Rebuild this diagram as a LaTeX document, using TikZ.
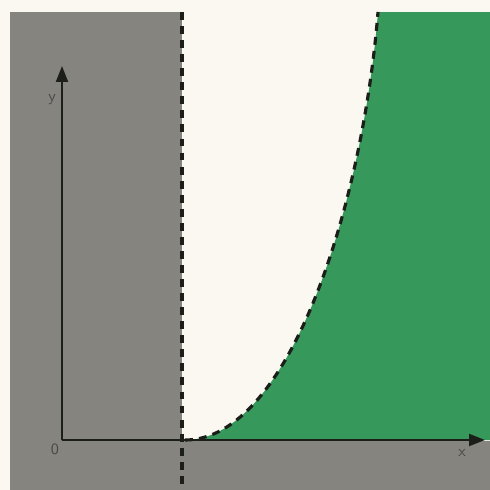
\documentclass[tikz,border=0pt]{standalone}
\definecolor{paper}{RGB}{250,248,240}
\definecolor{slate}{RGB}{134,132,126}
\definecolor{leaf}{RGB}{54,152,90}
\definecolor{ink}{RGB}{28,30,26}
\usepackage{tikz}
\usetikzlibrary{arrows.meta}
\tikzset{
  axis/.style={-{Triangle[length=3.2mm,width=2.4mm]}, ink, line width=1.3pt},
  bound/.style={ink, line width=1.8pt, dash pattern=on 4.5pt off 3.5pt},
  lbl/.style={font=\sffamily\small, text=ink!80},
}
\begin{document}
\begin{tikzpicture}[x=0.02cm,y=-0.02cm]
    \useasboundingbox (0,0) rectangle (490,490);
    \fill[paper] (0,0) rectangle (490,490);
    % shaded parts
    \fill[slate] (10,12) rectangle (182,490);
    \fill[slate] (182,441) rectangle (490,490);
    \fill[leaf] (185,440) .. controls (288,440) and (362,210) .. (378,12)
        -- (490,12) -- (490,440) -- cycle;
    % boundaries
    \coordinate (wallTop) at (182,12);
    \coordinate (wallBot) at (182,490);
    \coordinate (tip) at (185,440);
    \coordinate (rim) at (378,12);
    \draw[bound] (wallTop) -- (wallBot);
    \draw[bound] (tip) .. controls (288,440) and (362,210) .. (rim);
    % axes
    \coordinate (O) at (62,440);
    \coordinate (xend) at (485,440);
    \coordinate (yend) at (62,66);
    \draw[axis] (O) -- (xend);
    \draw[axis] (O) -- (yend);
    \node[lbl] (o) at (55,449) {0};
    \node[lbl] (ylab) at (52,100) {y};
    \node[lbl] (xlab) at (462,453) {x};
\end{tikzpicture}
\end{document}
